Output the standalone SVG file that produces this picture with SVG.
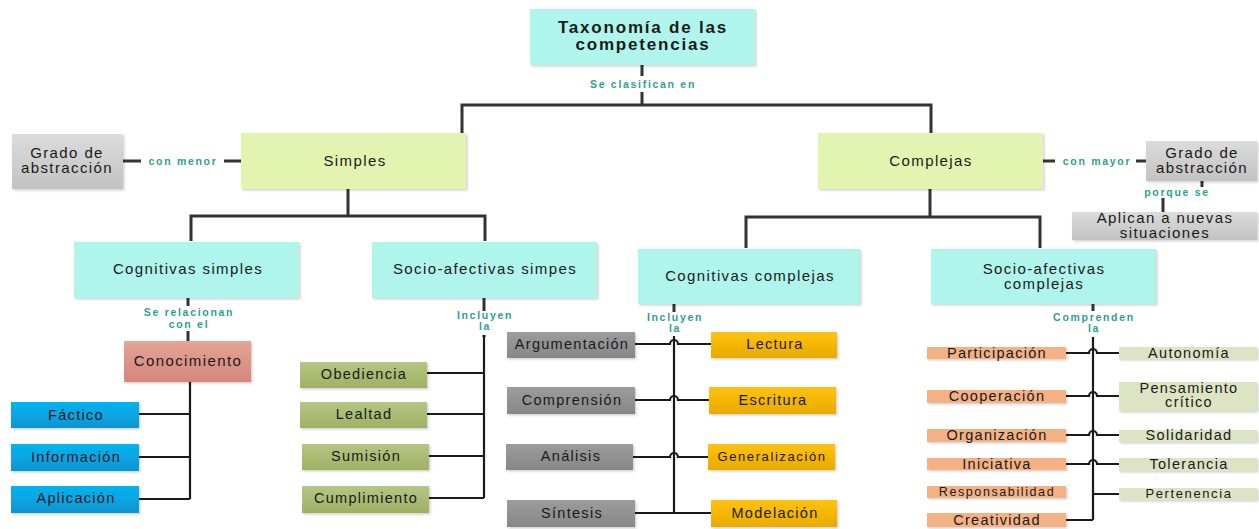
<svg xmlns="http://www.w3.org/2000/svg" width="1259" height="529" viewBox="0 0 1259 529">
<defs>
<linearGradient id="gGray" x1="0" y1="0" x2="0" y2="1"><stop offset="0" stop-color="#dcdcdc"/><stop offset="1" stop-color="#c2c2c2"/></linearGradient>
<linearGradient id="gRed" x1="0" y1="0" x2="0" y2="1"><stop offset="0" stop-color="#e3a597"/><stop offset="1" stop-color="#d5867a"/></linearGradient>
<linearGradient id="gBlue" x1="0" y1="0" x2="0" y2="1"><stop offset="0" stop-color="#05b4f2"/><stop offset="1" stop-color="#0a94d2"/></linearGradient>
<linearGradient id="gOlive" x1="0" y1="0" x2="0" y2="1"><stop offset="0" stop-color="#b6c684"/><stop offset="1" stop-color="#9eb163"/></linearGradient>
<linearGradient id="gDark" x1="0" y1="0" x2="0" y2="1"><stop offset="0" stop-color="#9c9c9c"/><stop offset="1" stop-color="#878787"/></linearGradient>
<linearGradient id="gOrange" x1="0" y1="0" x2="0" y2="1"><stop offset="0" stop-color="#ffc30a"/><stop offset="1" stop-color="#e9aa00"/></linearGradient>
<filter id="sh" x="-10%" y="-10%" width="130%" height="140%"><feDropShadow dx="1.5" dy="1.5" stdDeviation="1" flood-color="#000" flood-opacity="0.18"/></filter>
</defs>
<style>
text{font-family:"Liberation Sans",Arial,sans-serif;fill:#1a1a1a;text-anchor:middle;letter-spacing:1.4px}
.t{font-size:15px}
.s{font-size:14.5px;letter-spacing:1.3px}
.xs{font-size:12.5px;letter-spacing:1.6px}
.b{font-weight:bold;font-size:17px;letter-spacing:1.8px}
.lbl{font-size:10.5px;font-weight:bold;fill:#2f9e90;letter-spacing:1.7px}
.cyan{fill:#aff5ec}
.lime{fill:#e3f4b0}
.gray{fill:url(#gGray)}
.red{fill:url(#gRed)}
.blue{fill:url(#gBlue)}
.olive{fill:url(#gOlive)}
.dark{fill:url(#gDark)}
.orange{fill:url(#gOrange)}
.salmon{fill:#f4b183}
.pale{fill:#dce4c3}
rect{filter:url(#sh)}
.c{fill:none;stroke:#333;stroke-width:3}
.c2{fill:none;stroke:#1a1a1a;stroke-width:2.2}
</style>
<rect width="1259" height="529" fill="#fff" style="filter:none"/>
<g id="connectors">
<path class="c" d="M642 65V76M642 92V105M462 133V105H931V133"/>
<path class="c" d="M123 161H141M224 161H241"/>
<path class="c" d="M1043 161H1055M1136 161H1146"/>
<path class="c" d="M1202 181V187M1163 198V212"/>
<path class="c" d="M348 189V216M191 241V216H485V241"/>
<path class="c" d="M930 189V217M746 248V217H1040V248"/>
<path class="c" d="M188 298V306M188 331V341"/>
<path class="c2" d="M190 382V499M139 414H190M139 457H190M139 499H190"/>
<path class="c" d="M484 298V311M484 335V337"/>
<path class="c2" d="M484 335V498M427 373H484M427 414H484M429 456H484M429 498H484"/>
<path class="c" d="M674 304V312"/>
<path class="c2" d="M674 336V513M635 344H670a4 4 0 0 1 8 0H711M635 400H670a4 4 0 0 1 8 0H709M633 457H670a4 4 0 0 1 8 0H708M635 513H711"/>
<path class="c" d="M1093 304V311"/>
<path class="c2" d="M1093 337V520M1066 353H1089a4 4 0 0 1 8 0H1119M1066 396H1089a4 4 0 0 1 8 0H1119M1066 435H1089a4 4 0 0 1 8 0H1119M1066 464H1089a4 4 0 0 1 8 0H1119M1093 494H1119M1066 520H1093"/>
</g>
<g id="n-title"><rect class="cyan" x="530" y="9" width="225" height="56"/><text class="b" x="643" y="33">Taxonomía de las</text><text class="b" x="643" y="50">competencias</text></g>
<g id="l-clasifican"><text class="lbl" x="643" y="88">Se clasifican en</text></g>
<g id="n-simples"><rect class="lime" x="241" y="133" width="225" height="56"/><text class="t" x="355" y="166">Simples</text></g>
<g id="n-complejas"><rect class="lime" x="818" y="133" width="225" height="56"/><text class="t" x="931" y="166">Complejas</text></g>
<g id="n-grado-menor"><rect class="gray" x="12" y="134" width="111" height="55"/><text class="t" x="67" y="158">Grado de</text><text class="t" x="67" y="173">abstracción</text></g>
<g id="l-menor"><text class="lbl" x="183" y="165">con menor</text></g>
<g id="n-grado-mayor"><rect class="gray" x="1146" y="141" width="111" height="40"/><text class="t" x="1202" y="158">Grado de</text><text class="t" x="1202" y="173">abstracción</text></g>
<g id="l-mayor"><text class="lbl" x="1097" y="165">con mayor</text></g>
<g id="l-porque"><text class="lbl" x="1177" y="196">porque se</text></g>
<g id="n-aplican"><rect class="gray" x="1072" y="212" width="185" height="28"/><text class="t" x="1165" y="223">Aplican a nuevas</text><text class="t" x="1165" y="238">situaciones</text></g>
<g id="n-cog-simples"><rect class="cyan" x="74" y="242" width="225" height="56"/><text class="t" x="188" y="274">Cognitivas simples</text></g>
<g id="n-soc-simpes"><rect class="cyan" x="372" y="242" width="225" height="56"/><text class="t" x="485" y="274">Socio-afectivas simpes</text></g>
<g id="n-cog-complejas"><rect class="cyan" x="638" y="249" width="222" height="55"/><text class="t" x="750" y="281">Cognitivas complejas</text></g>
<g id="n-soc-complejas"><rect class="cyan" x="931" y="249" width="225" height="55"/><text class="t" x="1044" y="274">Socio-afectivas</text><text class="t" x="1044" y="289">complejas</text></g>
<g id="l-relacionan"><text class="lbl" x="189" y="316">Se relacionan</text><text class="lbl" x="189" y="328">con el</text></g>
<g id="n-conocimiento"><rect class="red" x="124" y="341" width="127" height="41"/><text class="t" x="188" y="366">Conocimiento</text></g>
<g id="n-factico"><rect class="blue" x="11" y="402" width="128" height="26"/><text class="s" x="76" y="420">Fáctico</text></g>
<g id="n-informacion"><rect class="blue" x="11" y="444" width="128" height="27"/><text class="s" x="76" y="462">Información</text></g>
<g id="n-aplicacion"><rect class="blue" x="11" y="486" width="128" height="27"/><text class="s" x="76" y="503">Aplicación</text></g>
<g id="l-incluyen1"><text class="lbl" x="485" y="319">Incluyen</text><text class="lbl" x="485" y="330">la</text></g>
<g id="n-obediencia"><rect class="olive" x="300" y="362" width="127" height="26"/><text class="s" x="364" y="379">Obediencia</text></g>
<g id="n-lealtad"><rect class="olive" x="300" y="402" width="127" height="26"/><text class="s" x="364" y="419">Lealtad</text></g>
<g id="n-sumision"><rect class="olive" x="302" y="444" width="127" height="26"/><text class="s" x="366" y="461">Sumisión</text></g>
<g id="n-cumplimiento"><rect class="olive" x="302" y="486" width="127" height="27"/><text class="s" x="366" y="503">Cumplimiento</text></g>
<g id="l-incluyen2"><text class="lbl" x="675" y="321">Incluyen</text><text class="lbl" x="675" y="332">la</text></g>
<g id="n-argumentacion"><rect class="dark" x="507" y="332" width="128" height="26"/><text class="s" x="572" y="349">Argumentación</text></g>
<g id="n-comprension"><rect class="dark" x="507" y="387" width="128" height="27"/><text class="s" x="572" y="405">Comprensión</text></g>
<g id="n-analisis"><rect class="dark" x="506" y="444" width="127" height="26"/><text class="s" x="571" y="461">Análisis</text></g>
<g id="n-sintesis"><rect class="dark" x="507" y="500" width="128" height="27"/><text class="s" x="572" y="518">Síntesis</text></g>
<g id="n-lectura"><rect class="orange" x="711" y="332" width="126" height="26"/><text class="s" x="775" y="349">Lectura</text></g>
<g id="n-escritura"><rect class="orange" x="709" y="387" width="127" height="27"/><text class="s" x="773" y="405">Escritura</text></g>
<g id="n-generalizacion"><rect class="orange" x="708" y="444" width="127" height="26"/><text class="xs" x="772" y="461" style="font-size:13px">Generalización</text></g>
<g id="n-modelacion"><rect class="orange" x="711" y="500" width="126" height="27"/><text class="s" x="775" y="518">Modelación</text></g>
<g id="l-comprenden"><text class="lbl" x="1094" y="321">Comprenden</text><text class="lbl" x="1094" y="332">la</text></g>
<g id="n-participacion"><rect class="salmon" x="927" y="347" width="139" height="12"/><text class="s" x="997" y="358">Participación</text></g>
<g id="n-cooperacion"><rect class="salmon" x="927" y="390" width="139" height="13"/><text class="s" x="997" y="401">Cooperación</text></g>
<g id="n-organizacion"><rect class="salmon" x="927" y="429" width="139" height="13"/><text class="s" x="997" y="440">Organización</text></g>
<g id="n-iniciativa"><rect class="salmon" x="927" y="458" width="139" height="12"/><text class="s" x="997" y="469">Iniciativa</text></g>
<g id="n-responsabilidad"><rect class="salmon" x="927" y="486" width="139" height="12"/><text class="xs" x="997" y="496">Responsabilidad</text></g>
<g id="n-creatividad"><rect class="salmon" x="927" y="513" width="139" height="14"/><text class="s" x="997" y="525">Creatividad</text></g>
<g id="n-autonomia"><rect class="pale" x="1119" y="347" width="138" height="12"/><text class="s" x="1189" y="358">Autonomía</text></g>
<g id="n-pensamiento"><rect class="pale" x="1119" y="382" width="138" height="29"/><text class="s" x="1189" y="393">Pensamiento</text><text class="s" x="1189" y="407">crítico</text></g>
<g id="n-solidaridad"><rect class="pale" x="1119" y="430" width="138" height="12"/><text class="s" x="1189" y="440">Solidaridad</text></g>
<g id="n-tolerancia"><rect class="pale" x="1119" y="458" width="138" height="13"/><text class="s" x="1189" y="469">Tolerancia</text></g>
<g id="n-pertenencia"><rect class="pale" x="1119" y="488" width="138" height="12"/><text class="xs" x="1189" y="498" style="font-size:13px">Pertenencia</text></g>
</svg>
